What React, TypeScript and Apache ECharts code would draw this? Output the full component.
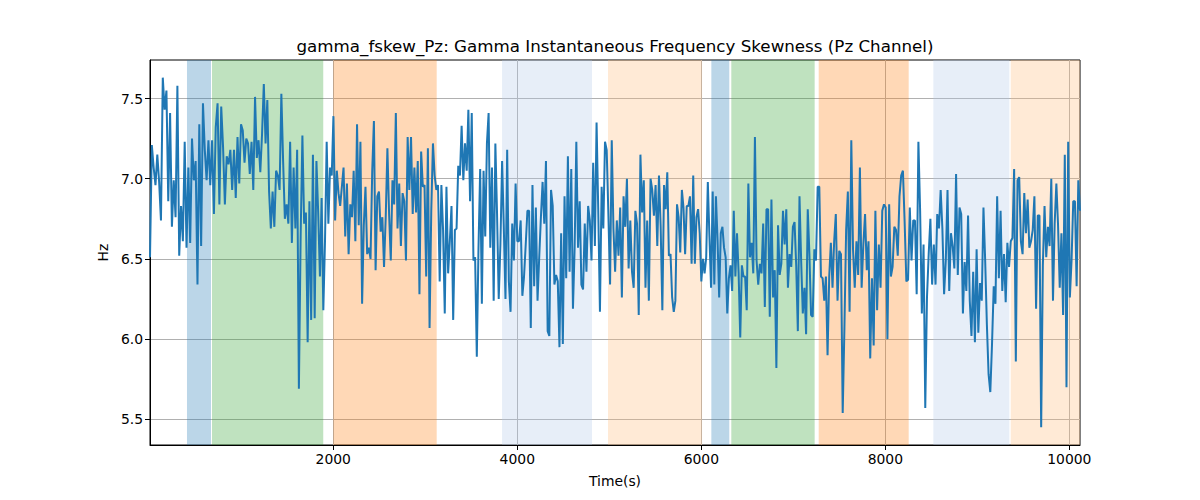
import React, { useEffect, useRef } from 'react';
import * as echarts from 'echarts';

const titleText = 'gamma_fskew_Pz: Gamma Instantaneous Frequency Skewness (Pz Channel)';
const xAxisName = 'Time(s)';
const yAxisName = 'Hz';
const xTicks = [2000, 4000, 6000, 8000, 10000];
const yTicks = [5.5, 6.0, 6.5, 7.0, 7.5];
const xMin = 8;
const xMax = 10116;
const yMin = 5.34;
const yMax = 7.74;

// time boundaries of consecutive stretches of the recording
const segmentBounds = [8, 921, 1855, 2790, 3725, 4660, 5595, 6529, 7462, 8397, 9290, 10116];

const seg1 = [6.51, 7.21, 7.07, 6.96, 7.15, 6.98, 6.74, 7.63, 7.43, 7.55, 6.86, 7.41, 6.70, 6.99, 6.76, 7.58, 6.52, 6.83, 6.61, 7.23, 6.57, 7.07, 6.60, 7.25, 6.99, 7.11, 6.34, 7.34, 6.58, 7.47, 7.18, 6.99, 7.24, 6.96, 7.24, 6.78, 7.32, 7.47, 6.84, 7.45, 7.20, 6.84, 7.14, 7.09, 7.18, 6.93];
const seg2 = [7.18, 6.88, 7.26, 6.97, 7.34, 7.30, 7.10, 7.25, 7.22, 7.03, 7.23, 6.93, 7.51, 7.13, 7.24, 7.04, 7.28, 7.59, 7.22, 7.49, 6.92, 6.69, 6.92, 6.70, 7.05, 7.02, 6.93, 7.53, 7.11, 6.75, 6.84, 6.72, 7.23, 6.60, 7.07, 6.69, 7.18, 5.69, 6.64, 7.27, 6.72, 6.79, 5.98, 6.86, 6.12, 7.15, 6.13, 7.11, 6.79];
const seg3 = [6.39, 6.88, 6.18, 6.61, 7.23, 6.72, 7.07, 7.02, 7.39, 6.74, 7.05, 6.91, 6.83, 6.95, 7.07, 6.64, 6.97, 6.53, 6.84, 6.76, 7.05, 6.61, 7.34, 6.71, 7.23, 6.22, 6.71, 6.95, 6.53, 6.57, 6.50, 7.05, 7.36, 6.43, 6.89, 6.92, 6.67, 6.76, 6.45, 6.76, 7.19, 6.78, 6.49, 6.99, 6.84, 7.41, 6.69, 6.97, 6.58, 6.91, 6.86];
const seg4 = [6.49, 7.26, 6.93, 7.26, 6.78, 7.07, 6.79, 7.11, 6.28, 7.17, 6.95, 6.96, 6.39, 7.19, 6.07, 6.80, 7.22, 7.02, 6.93, 6.96, 6.36, 6.96, 6.68, 6.16, 6.95, 6.41, 6.61, 6.83, 6.12, 6.68, 6.69, 7.08, 7.02, 7.33, 6.99, 7.22, 7.05, 7.43, 6.86, 7.41, 6.49, 6.51, 5.89, 6.57, 7.06, 6.22, 7.05, 6.64, 7.22, 7.41, 6.57];
const seg5 = [7.07, 6.24, 7.22, 6.78, 6.25, 6.59, 7.11, 6.70, 6.25, 7.18, 6.36, 6.17, 6.72, 6.49, 6.97, 6.61, 6.61, 6.74, 6.27, 6.39, 6.59, 6.80, 6.80, 6.07, 6.96, 6.33, 6.82, 6.24, 6.51, 6.76, 6.98, 6.72, 7.11, 6.05, 6.02, 6.93, 6.83, 6.34, 6.40, 6.36, 5.95, 6.66, 5.97, 6.89, 6.38, 7.14, 6.42, 7.06, 6.19, 6.57, 7.23];
const seg6 = [6.57, 6.86, 6.34, 6.31, 6.72, 6.42, 6.83, 6.74, 6.49, 7.10, 6.58, 7.35, 6.80, 6.17, 6.95, 6.69, 7.23, 7.18, 6.78, 6.34, 7.24, 6.69, 6.42, 6.74, 6.52, 6.82, 6.26, 6.89, 6.70, 7.00, 6.44, 6.74, 6.42, 6.32, 6.80, 6.72, 6.15, 7.15, 6.79, 6.99, 6.32, 6.74, 6.24, 7.00, 6.93, 6.77, 6.96, 6.58, 7.02, 6.70, 6.18];
const seg7 = [6.96, 6.81, 7.04, 6.52, 6.53, 6.26, 6.17, 6.24, 6.84, 6.76, 6.54, 6.93, 6.82, 6.53, 6.83, 6.83, 6.89, 6.47, 7.02, 6.47, 6.76, 6.81, 6.66, 6.36, 6.50, 6.41, 6.51, 6.98, 6.64, 6.32, 6.92, 6.34, 6.89, 6.62, 6.26, 6.66, 6.70, 6.57, 6.51, 6.16, 6.38, 6.46, 6.30, 6.80, 6.39, 6.66, 6.41, 6.01, 6.46, 6.39, 6.39, 6.18, 6.97];
const seg8 = [6.51, 6.60, 6.41, 7.26, 6.49, 6.34, 6.47, 6.41, 6.72, 6.20, 6.81, 6.81, 6.14, 6.87, 6.26, 6.43, 5.82, 6.71, 6.40, 6.47, 6.80, 6.59, 6.81, 6.32, 6.53, 6.45, 6.70, 6.73, 6.46, 6.05, 6.89, 6.49, 6.16, 6.32, 6.03, 6.81, 6.53, 6.15, 6.14, 6.56, 6.49, 6.95, 6.95, 6.39, 6.38, 6.24, 6.39, 5.90, 6.39, 6.60, 6.32, 6.61];
const seg9 = [6.78, 6.24, 6.55, 6.53, 5.54, 6.07, 6.68, 6.92, 6.17, 7.24, 6.56, 6.32, 6.61, 6.40, 7.07, 6.32, 6.59, 6.78, 6.43, 6.61, 5.88, 6.38, 5.96, 6.80, 6.18, 6.59, 6.32, 6.80, 6.84, 6.82, 6.00, 6.84, 6.39, 6.45, 6.70, 6.68, 6.52, 6.89, 7.02, 7.05, 6.73, 6.36, 6.37, 6.82, 6.49, 6.74, 6.74, 6.28, 7.23, 6.80];
const seg10 = [6.16, 6.59, 5.57, 6.26, 6.53, 6.75, 6.34, 6.59, 6.34, 6.78, 6.69, 6.93, 6.69, 6.28, 6.49, 6.93, 6.30, 6.66, 6.58, 6.44, 7.03, 6.40, 6.82, 6.78, 6.16, 6.48, 6.30, 6.77, 6.24, 6.02, 6.42, 5.98, 6.56, 6.04, 6.35, 6.24, 6.82, 6.49, 6.09, 5.78, 5.67, 5.97, 6.33, 6.22, 6.89, 6.38, 6.80, 6.30];
const seg11 = [6.53, 6.23, 6.60, 6.45, 6.61, 6.63, 7.06, 5.86, 6.99, 7.01, 6.61, 6.53, 6.91, 6.66, 6.87, 6.57, 6.61, 6.68, 6.89, 6.19, 6.77, 6.77, 5.45, 6.46, 6.83, 6.51, 6.70, 6.58, 7.00, 6.24, 6.72, 6.97, 6.71, 6.32, 6.66, 6.15, 7.15, 5.70, 7.23, 6.26, 6.49, 6.86, 6.86, 6.33, 6.99, 6.80];

// shaded intervals (time in seconds) and their kind
const bandStarts = [410, 682, 2000, 3834, 4986, 6109, 6326, 7276, 8522, 9363];
const bandEnds = [671, 1891, 3124, 4812, 6008, 6304, 7232, 8254, 9348, 10116];
const bandKinds = ['blue', 'green', 'orange', 'lightblue', 'lightorange', 'blue', 'green', 'orange', 'lightblue', 'lightorange'];

const kindColor: Record<string, string> = {
  blue: 'rgba(31,119,180,0.3)',
  green: 'rgba(44,160,44,0.3)',
  orange: 'rgba(255,127,14,0.3)',
  lightblue: 'rgba(174,199,232,0.3)',
  lightorange: 'rgba(255,187,120,0.3)',
};

function buildPoints(): [number, number][] {
  const segs = [seg1, seg2, seg3, seg4, seg5, seg6, seg7, seg8, seg9, seg10, seg11];
  const pts: [number, number][] = [];
  segs.forEach((seg, k) => {
    const t0 = segmentBounds[k];
    const t1 = segmentBounds[k + 1];
    const last = k === segs.length - 1;
    const n = seg.length;
    seg.forEach((v, i) => {
      const f = last ? i / (n - 1) : i / n;
      pts.push([t0 + f * (t1 - t0), v]);
    });
  });
  return pts;
}

const FONT = 'DejaVu Sans';

export default function App() {
  const ref = useRef<HTMLDivElement>(null);
  useEffect(() => {
    if (!ref.current) return;
    const chart = echarts.init(ref.current, undefined, { renderer: 'svg' });
    const points = buildPoints();
    chart.setOption({
      animation: false,
      backgroundColor: '#ffffff',
      title: {
        text: titleText,
        left: 610,
        top: 32,
        textAlign: 'center',
        textStyle: { fontFamily: FONT, fontSize: 16.7, fontWeight: 'normal', color: '#000' },
      },
      grid: {
        left: 150,
        right: 120,
        top: 60,
        bottom: 55,
        show: true,
        borderColor: '#000',
        borderWidth: 1,
        backgroundColor: 'transparent',
        z: 1,
      },
      xAxis: {
        type: 'value',
        min: xMin,
        max: xMax,
        z: 1,
        name: xAxisName,
        nameLocation: 'middle',
        nameGap: 29,
        nameTextStyle: { fontFamily: FONT, fontSize: 13.9, color: '#000' },
        axisLine: { show: true, lineStyle: { color: '#000', width: 1 } },
        axisTick: { show: true, length: 5, lineStyle: { color: '#000', width: 1 }, customValues: xTicks },
        axisLabel: {
          customValues: xTicks,
          margin: 7,
          fontFamily: FONT,
          fontSize: 13.9,
          color: '#000',
          formatter: (v: number) => String(Math.round(v)),
        },
        splitLine: { show: true, lineStyle: { color: '#b0b0b0', width: 1 } },
      },
      yAxis: {
        type: 'value',
        min: yMin,
        max: yMax,
        z: 1,
        name: yAxisName,
        nameLocation: 'middle',
        nameGap: 36,
        nameTextStyle: { fontFamily: FONT, fontSize: 13.9, color: '#000' },
        axisLine: { show: true, lineStyle: { color: '#000', width: 1 } },
        axisTick: { show: true, length: 5, lineStyle: { color: '#000', width: 1 }, customValues: yTicks },
        axisLabel: {
          customValues: yTicks,
          margin: 7,
          fontFamily: FONT,
          fontSize: 13.9,
          color: '#000',
          formatter: (v: number) => v.toFixed(1),
        },
        splitLine: { show: true, lineStyle: { color: '#b0b0b0', width: 1 } },
      },
      series: [
        {
          type: 'line',
          z: 0,
          data: [[xMin, yMin], [xMax, yMin]],
          symbol: 'none',
          lineStyle: { opacity: 0 },
          silent: true,
          markArea: {
            silent: true,
            data: bandStarts.map((s, i) => [
              { xAxis: s, itemStyle: { color: kindColor[bandKinds[i]] } },
              { xAxis: bandEnds[i] },
            ]),
          },
        },
        {
          type: 'line',
          z: 3,
          data: points,
          symbol: 'none',
          lineStyle: { color: '#1f77b4', width: 2 },
          silent: true,
        },
      ],
    });
    return () => chart.dispose();
  }, []);
  return (
    <div
      ref={ref}
      style={{ position: 'fixed', left: 0, top: 0, width: 1200, height: 500 }}
    />
  );
}
